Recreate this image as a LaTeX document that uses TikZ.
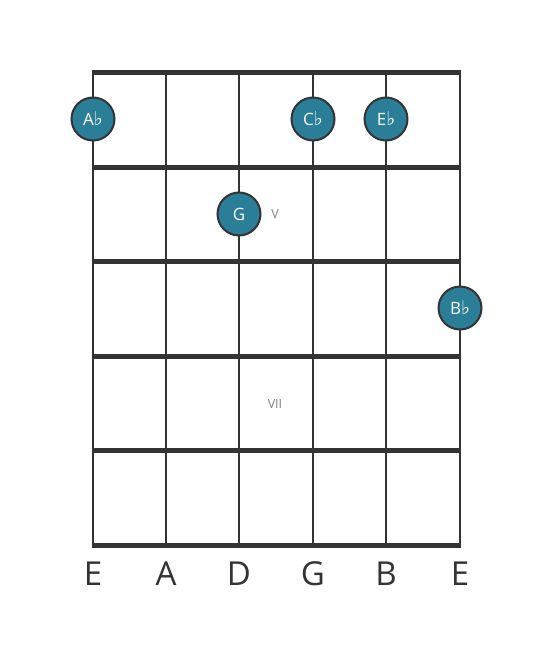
\documentclass[tikz,border=0pt]{standalone}
\usepackage{fontspec}
\setmainfont{Open Sans}
\newfontfamily\symfont{DejaVu Sans}
\newcommand\myflat{{\symfont\fontsize{19}{19}\selectfont ♭}}
\begin{document}
\begin{tikzpicture}[x=1pt,y=-1pt,
  fretline/.style={line width=5pt,draw=black!80},
  stringline/.style={line width=2.6pt,draw=black!80},
  notedot/.style={circle,fill={rgb,255:red,42;green,126;blue,152},draw=black!80,line width=2pt,minimum size=43pt,inner sep=0pt,text=white,font=\fontsize{17}{17}\selectfont},
  fretnum/.style={text=black!50,font=\fontsize{12.5}{12.5}\selectfont},
  strname/.style={text=black!80,font=\fontsize{33}{33}\selectfont}]
\useasboundingbox (0,0) rectangle (553,656);
\foreach \x [count=\i] in {93,166,239,313,386,460} {
  \coordinate (st\i) at (\x,72);
  \coordinate (sb\i) at (\x,545);
  \draw[stringline] (st\i) -- (sb\i);
}
\foreach \y [count=\j] in {72,167,261,356,450,545} {
  \coordinate (fl\j) at (91.7,\y);
  \coordinate (fr\j) at (461.3,\y);
  \draw[fretline] (fl\j) -- (fr\j);
}
\node[notedot] (ab) at (93,119) {A\myflat};
\node[notedot] (cb) at (313,119) {C\myflat};
\node[notedot] (eb) at (386,119) {E\myflat};
\node[notedot] (g) at (239,214) {G};
\node[notedot] (bb) at (460,308) {B\myflat};
\node[fretnum] (v) at (275,214) {V};
\node[fretnum] (vii) at (275,404) {VII};
\foreach \x/\n [count=\i] in {93/E,166/A,239/D,313/G,386/B,460/E} {
  \node[strname] (n\i) at (\x,574) {\n};
}
\end{tikzpicture}
\end{document}
